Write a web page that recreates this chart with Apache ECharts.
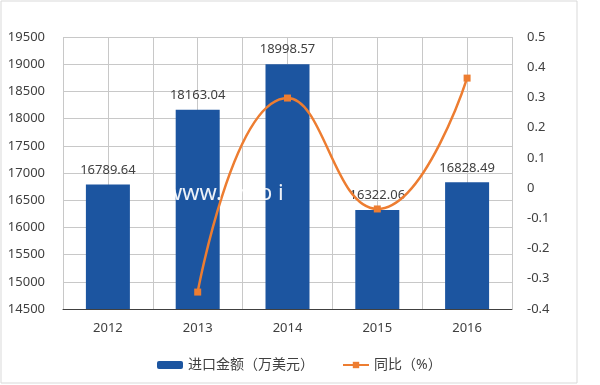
<!DOCTYPE html>
<html>
<head>
<meta charset="utf-8">
<script src="https://cdn.jsdelivr.net/npm/echarts@6/dist/echarts.min.js"></script>
<style>
html,body{margin:0;padding:0;background:#fff;}
#main{width:600px;height:385px;}
</style>
</head>
<body>
<div id="main"></div>
<script>
var categories = ['2012', '2013', '2014', '2015', '2016'];
var importValues = [16789.64, 18163.04, 18998.57, 16322.06, 16828.49];
var yoyValues = [null, -0.344, 0.298, -0.069, 0.364];
var seriesNames = ['进口金额（万美元）', '同比（%）'];

var FONT = '"Noto Sans", "Noto Sans CJK SC", sans-serif';
var chart = echarts.init(document.getElementById('main'), null, {renderer: 'canvas'});
chart.setOption({
  animation: false,
  backgroundColor: '#fff',
  textStyle: {fontFamily: FONT},
  graphic: [
    {type: 'rect', shape: {x: 1, y: 1, width: 576, height: 382}, style: {fill: 'none', stroke: '#d9d9d9', lineWidth: 1}, z: -10},
    {type: 'text', left: 165, top: 183, z: 100, style: {text: 'www. cn-b i', fill: 'rgba(255,255,255,0.92)', font: '22px ' + FONT}}
  ],
  legend: {
    bottom: 8,
    left: 152,
    itemGap: 28,
    textStyle: {fontSize: 14, color: '#404040', fontFamily: FONT},
    data: [
      {name: seriesNames[0]},
      {name: seriesNames[1]}
    ],
    itemWidth: 26,
    itemHeight: 8
  },
  grid: {left: 63, right: 88, top: 37, bottom: 76},
  xAxis: [
    {
      type: 'category',
      data: categories,
      axisLine: {onZero: false, lineStyle: {color: '#404040', width: 1}},
      axisTick: {show: false},
      axisLabel: {fontSize: 13, color: '#404040', margin: 13, fontFamily: FONT},
      splitLine: {show: false}
    },
    {
      type: 'value',
      min: 0, max: 10, interval: 1,
      position: 'top',
      axisLine: {show: false, onZero: false},
      axisTick: {show: false},
      axisLabel: {show: false},
      splitLine: {show: true, lineStyle: {color: '#c8c8c8', width: 1}}
    }
  ],
  yAxis: [
    {
      type: 'value',
      min: 14500, max: 19500, interval: 500,
      axisLine: {show: false},
      axisTick: {show: false},
      axisLabel: {fontSize: 13, color: '#404040', margin: 18, fontFamily: FONT,
        formatter: function (v) { return String(v); }},
      splitLine: {lineStyle: {color: '#c8c8c8', width: 1}}
    },
    {
      type: 'value',
      min: -0.4, max: 0.5, interval: 0.1,
      axisLine: {show: false},
      axisTick: {show: false},
      axisLabel: {fontSize: 13, color: '#404040', margin: 15, fontFamily: FONT,
        formatter: function (v) { return String(Math.round(v * 10) / 10); }},
      splitLine: {show: false}
    }
  ],
  series: [
    {
      name: seriesNames[0],
      type: 'bar',
      xAxisIndex: 0,
      yAxisIndex: 0,
      data: importValues,
      barWidth: '49%',
      itemStyle: {color: '#1c55a0'},
      label: {show: true, position: 'top', distance: 8, fontSize: 13, color: '#404040', fontFamily: FONT,
        formatter: function (p) { return p.value.toFixed(2); }}
    },
    {
      name: seriesNames[1],
      type: 'line',
      xAxisIndex: 0,
      yAxisIndex: 1,
      data: yoyValues,
      smooth: 0.5,
      symbol: 'rect',
      symbolSize: 7,
      lineStyle: {color: '#ed7d31', width: 2.5},
      itemStyle: {color: '#ed7d31'},
      z: 5
    }
  ]
});
</script>
</body>
</html>
